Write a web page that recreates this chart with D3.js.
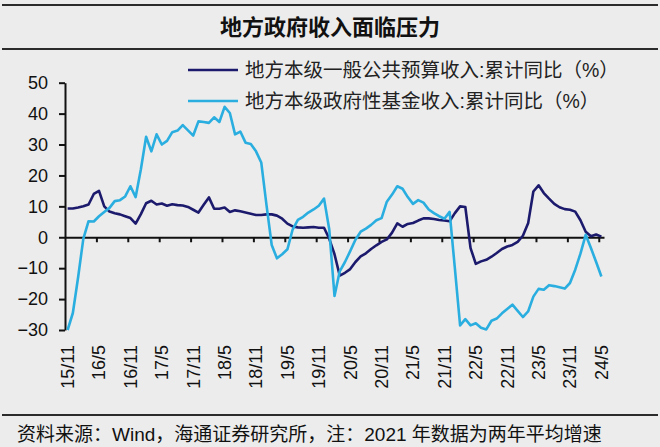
<!DOCTYPE html>
<html>
<head>
<meta charset="utf-8">
<script src="https://cdn.jsdelivr.net/npm/d3@7"></script>
<style>
  html, body { margin: 0; padding: 0; background: #ececec; }
  svg { display: block; }
</style>
</head>
<body>
<svg id="chart" width="660" height="447"></svg>
<script>
// ---------- data ----------
const titleText = "地方政府收入面临压力";
const footerText = "资料来源：Wind，海通证券研究所，注：2021 年数据为两年平均增速";
const seriesNames = ["地方本级一般公共预算收入:累计同比（%）", "地方本级政府性基金收入:累计同比（%）"];
const startYear = 2015, startMonth = 11, monthCount = 103;   // 2015/11 .. 2024/5
const tickLabels = ["15/11","16/5","16/11","17/5","17/11","18/5","18/11","19/5","19/11",
                    "20/5","20/11","21/5","21/11","22/5","22/11","23/5","23/11","24/5"];
const yTicks = [-30, -20, -10, 0, 10, 20, 30, 40, 50];

const generalBudget = [
  9.3, 9.3, 9.6, 10.0, 10.6, 14.0, 15.0, 10.0, 8.3, 7.8,
  7.4, 6.8, 6.2, 4.4, 7.5, 11.0, 11.8, 10.6, 10.9, 10.2,
  10.7, 10.4, 10.3, 9.8, 8.9, 8.0, 10.5, 12.9, 9.2, 9.2,
  9.6, 8.2, 8.7, 8.4, 8.0, 7.6, 7.2, 7.2, 7.4, 7.4,
  7.0, 6.0, 4.4, 3.5, 3.2, 3.1, 3.2, 3.3, 3.1, 3.1,
  -0.5, -5.5, -12.4, -11.5, -10.3, -8.0, -6.2, -5.2, -3.8, -2.6,
  -1.5, -0.7, 1.5, 4.5, 3.4, 4.3, 4.6, 5.4, 6.1, 6.1,
  5.9, 5.6, 5.4, 5.2, 7.8, 10.0, 9.8, -3.5, -8.6, -7.8,
  -7.3, -6.3, -5.1, -3.8, -3.0, -2.5, -1.5, 0.5, 4.5, 14.8,
  16.8, 14.3, 12.5, 10.8, 9.7, 9.1, 8.9, 8.3, 5.5, 1.8,
  0.3, 0.9, 0.2
];
const fundRevenue = [
  -30.0, -24.5, -13.0, -0.5, 5.2, 5.1, 6.8, 8.2, 9.5, 11.7,
  12.0, 13.2, 16.5, 13.0, 22.0, 32.5, 27.8, 33.3, 30.0, 31.2,
  34.0, 34.5, 36.3, 34.6, 32.9, 37.5, 37.3, 37.0, 38.8, 37.3,
  42.2, 40.2, 33.3, 34.2, 30.6, 30.2, 27.8, 24.2, 10.5, -2.5,
  -6.8, -5.5, -3.9, 2.5, 5.6, 6.6, 8.0, 9.0, 10.2, 12.5,
  2.5, -19.0, -11.0, -8.0, -4.5, -0.8, 1.8, 2.8, 4.0, 5.5,
  6.2, 11.5, 13.8, 16.5, 15.7, 13.0, 10.8, 12.0, 11.2, 9.0,
  7.8, 6.8, 6.0, 8.2, -10.0, -28.5, -26.5, -28.5, -27.8, -29.3,
  -29.8, -27.0, -26.3, -24.6, -23.2, -21.8, -23.8, -25.8, -24.0, -19.2,
  -16.7, -17.0, -15.5, -15.8, -16.2, -16.6, -14.8, -10.5, -5.3, 0.8,
  -3.5, -8.0, -12.7
];

// month categories (labels like "15/11")
const months = [];
for (let k = 0; k < monthCount; k++) {
  const m0 = startMonth - 1 + k;
  const yy = startYear + Math.floor(m0 / 12);
  const mm = (m0 % 12) + 1;
  months.push(String(yy).slice(2) + "/" + mm);
}

// ---------- layout ----------
const colors = ["#1c1a6d", "#2aaee0"];
const svg = d3.select("#chart");
const latin = "'Liberation Sans', Arial, 'Noto Sans CJK SC', sans-serif";
const cjk = "'Liberation Sans', 'Noto Sans CJK SC', sans-serif";

const x = d3.scaleBand().domain(months).range([65, 604]).paddingInner(0).paddingOuter(0);
const xb = d3.scaleLinear().domain([0, monthCount]).range([65, 604]);   // category boundaries
const y = d3.scaleLinear().domain([-30, 50]).range([330, 82.7]);
const cx = m => x(m) + x.bandwidth() / 2;

// frame lines and title
[5, 49, 415].forEach(yy => {
  svg.append("line").attr("x1", 2).attr("x2", 658).attr("y1", yy).attr("y2", yy)
    .attr("stroke", "#2b2b2b").attr("stroke-width", 2);
});
svg.append("text").attr("x", 330).attr("y", 35).attr("text-anchor", "middle")
  .style("font-family", "'Noto Sans CJK SC', sans-serif").style("font-weight", 700)
  .style("font-size", "22px").attr("fill", "#111").text(titleText);

// y axis
const yAxis = svg.append("g").attr("transform", "translate(65,0)")
  .call(d3.axisLeft(y).tickValues(yTicks).tickSize(6).tickSizeOuter(0).tickPadding(11).tickFormat(d3.format("d")));
yAxis.select(".domain").attr("stroke", "#111").attr("stroke-width", 2);
yAxis.selectAll(".tick line").attr("stroke", "#111").attr("stroke-width", 2);
yAxis.selectAll("text").style("font-family", latin).style("font-size", "18px").attr("fill", "#111");

// x axis at zero with boundary ticks
const boundaryTicks = tickLabels.slice(1).map(l => months.indexOf(l));
const xAxis = svg.append("g").attr("transform", `translate(0,${y(0)})`)
  .call(d3.axisBottom(xb).tickValues(boundaryTicks).tickSize(5).tickSizeOuter(0).tickFormat(""));
xAxis.select(".domain").attr("stroke", "#111").attr("stroke-width", 2);
xAxis.selectAll(".tick line").attr("stroke", "#111").attr("stroke-width", 2);

// x labels (rotated) at bottom
const labelAxis = svg.append("g").attr("transform", "translate(0,340)")
  .call(d3.axisBottom(x).tickValues(tickLabels).tickSize(0).tickPadding(0));
labelAxis.select(".domain").remove();
labelAxis.selectAll("text")
  .attr("transform", "rotate(-90)")
  .attr("text-anchor", "end")
  .attr("x", -5).attr("y", 0).attr("dy", "0.36em")
  .style("font-family", latin).style("font-size", "18px").attr("fill", "#111");

// lines
const line = d3.line().x((d, i) => cx(months[i])).y(d => y(d));
[generalBudget, fundRevenue].forEach((s, k) => {
  svg.append("path").datum(s).attr("d", line).attr("fill", "none")
    .attr("stroke", colors[k]).attr("stroke-width", 2.6).attr("stroke-linejoin", "round");
});

// legend
const legendY = [70, 101];
seriesNames.forEach((n, k) => {
  svg.append("line").attr("x1", 188).attr("x2", 238).attr("y1", legendY[k]).attr("y2", legendY[k])
    .attr("stroke", colors[k]).attr("stroke-width", 2.6);
  svg.append("text").attr("x", 245).attr("y", legendY[k]).attr("dy", "0.35em")
    .style("font-family", cjk).style("font-size", "19.5px").attr("fill", "#222").text(n);
});

// footer
svg.append("text").attr("x", 17).attr("y", 434).attr("dy", "0.36em")
  .style("font-family", cjk).style("font-size", "19px").attr("fill", "#111").text(footerText);
</script>
</body>
</html>
